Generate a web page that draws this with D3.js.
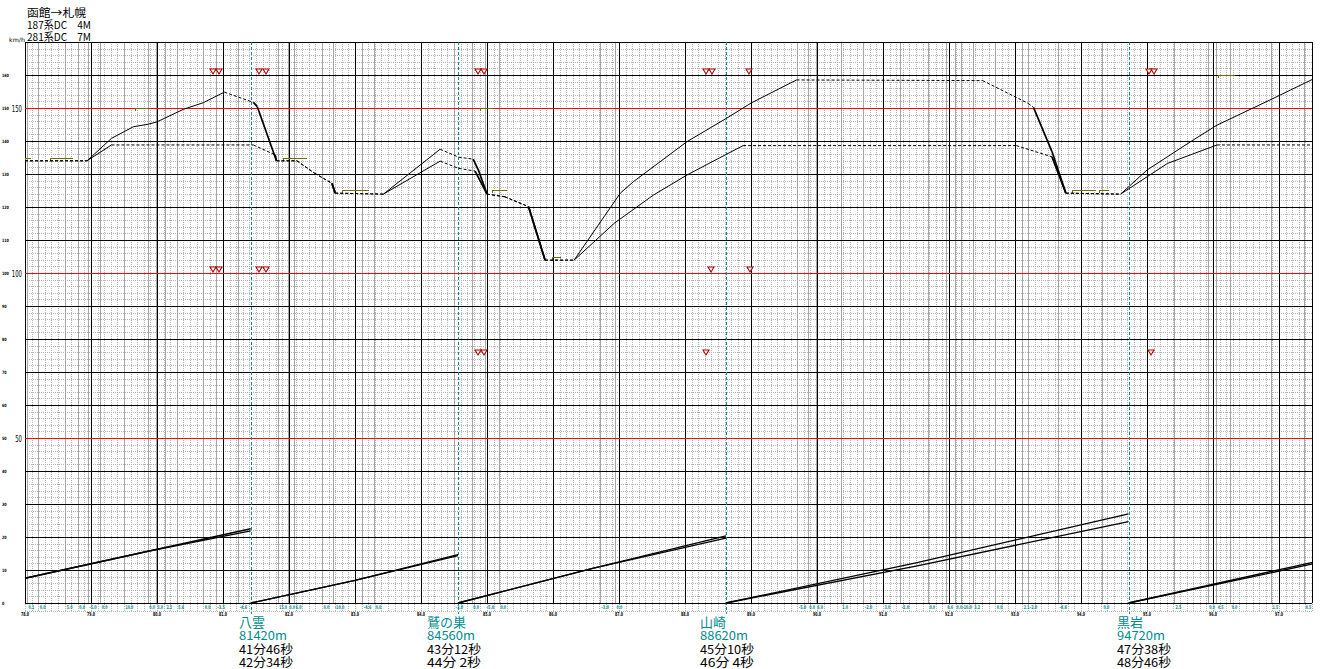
<!DOCTYPE html>
<html><head><meta charset="utf-8">
<script src="https://cdn.jsdelivr.net/npm/d3@7"></script>
<style>body{margin:0;background:#fff;overflow:hidden}svg{display:block}</style>
</head><body>
<svg id="c" width="1321" height="669"></svg>
<script>
// ---------- data ----------
const titleLines = ["函館→札幌", "187系DC　4M", "281系DC　7M"];
const unitLabel = "km/h";
const kmTicks = [78,79,80,81,82,83,84,85,86,87,88,89,90,91,92,93,94,95,96,97];
const kmTickLabels = ["78.0","79.0","80.0","81.0","82.0","83.0","84.0","85.0","86.0","87.0","88.0","89.0","90.0","91.0","92.0","93.0","94.0","95.0","96.0","97.0"];
const speedTicks = [0,10,20,30,40,50,60,70,80,90,100,110,120,130,140,150,160,170];
const speedTickLabels = ["0","10","20","30","40","50","60","70","80","90","100","110","120","130","140","150","160","170"];
const redSpeeds = [50,100,150];
const redLabels = ["50","100","150"];

const stationNames = ["八雲","鷲の巣","山崎","黒岩"];
const stationKm = [81.42,84.56,88.62,94.72];
const stationDist = ["81420m","84560m","88620m","94720m"];
const passTime1 = ["41分46秒","43分12秒","45分10秒","47分38秒"];
const passTime2 = ["42分34秒","44分 2秒","46分 4秒","48分46秒"];

const gradeKm = [78.03,78.20,78.61,78.80,78.95,79.14,79.50,79.86,79.98,80.12,80.30,80.70,80.89,81.23,
  81.83,81.98,82.08,82.50,82.67,83.11,83.29,84.50,84.77,84.97,85.18,86.71,86.94,
  89.70,89.86,89.98,90.36,90.70,91.00,91.26,91.68,91.95,92.09,92.18,92.36,92.70,
  93.11,93.20,93.65,94.32,95.41,95.92,96.05,96.26,96.88,97.38];
const gradeLabel = ["0.1","0.0","5.0","0.0","-5.0","0.0","10.0","0.0","3.0","2.2","5.6","0.0","-3.5","-4.6",
  "15.0","0.0","6.0","0.0","-10.0","-4.6","0.0","-3.0","0.0","-5.0","0.0","-3.0","0.0",
  "-5.0","0.0","6.0","1.0","-2.0","3.0","-2.0","0.0","6.6","0.0","-10.0","3.2","0.0",
  "2.1","-2.0","-4.6","0.0","2.5","0.0","4.5","0.0","1.5","4.5"];

// train 1 (upper curve)
const train1Km = [78.00,78.94,79.31,79.64,79.87,80.00,80.40,80.70,81.02,81.46,81.52,81.81,82.12,82.39,82.65,82.70,
  83.43,84.29,84.57,84.79,84.87,85.00,85.27,85.63,85.88,86.32,87.02,87.22,88.03,88.63,89.01,89.69,
  92.51,93.20,93.28,93.56,93.77,94.60,95.00,95.70,96.06,96.86,97.51];
const train1Speed = [134.0,134.0,140.8,144.3,145.1,145.8,149.6,151.6,154.8,151.7,150.4,134.0,134.0,130.2,127.2,124.2,
  123.9,137.5,135.1,134.5,131.2,123.9,123.1,120.1,103.9,103.9,124.2,127.7,139.8,146.9,151.6,158.5,
  158.3,151.4,150.2,136.8,124.2,123.9,131.2,140.3,144.8,152.4,158.7];
// notch of each segment: p = power, c = coast/constant, b = brake
const train1Mode = ["c","p","p","p","p","p","p","p","c","b","b","c","c","c","b","c","p","c","c","b","b",
  "c","c","b","c","p","p","p","p","p","p","c","c","c","b","b","c","p","p","p","p","p"];

// train 2 (lower curve)
const train2Km = [78.00,78.94,79.31,81.46,81.79,81.81,82.12,82.39,82.65,82.70,83.43,84.29,84.57,84.82,85.00,85.27,
  85.63,85.88,86.32,86.93,87.52,88.03,88.63,88.88,93.02,93.56,93.77,94.60,95.31,96.06,97.51];
const train2Speed = [134.0,134.0,138.8,138.8,135.8,134.0,134.0,130.2,127.2,124.2,123.9,133.9,131.7,130.9,123.9,123.1,
  120.1,103.9,103.9,115.1,123.6,129.7,136.0,138.6,138.6,135.2,124.2,123.9,133.2,138.8,138.8];
const train2Mode = ["c","p","c","c","b","c","c","c","b","c","p","c","c","b","c","c","b","c","p","p","p","p","p",
  "c","c","b","c","p","p","c"];

// running time since previous station (seconds)
const time1Km = [[78.00,79.90,81.42],[81.42,83.00,84.56],[84.56,86.60,88.62],[88.62,91.50,94.72],[94.72,97.51]];
const time1Sec = [[45,95,131],[0,41,86],[0,63,118],[0,67,148],[0,71]];
const time2Km = [[78.00,79.90,81.42],[81.42,83.00,84.56],[84.56,86.60,88.62],[88.62,91.50,94.72],[94.72,97.51]];
const time2Sec = [[45,95,135],[0,41,88],[0,63,122],[0,73,162],[0,74]];

// signal / restriction markers
const markerKm = [80.85,80.94,81.55,81.65,84.86,84.95,88.32,88.41,88.97,95.03,95.11,
  80.85,80.94,81.55,81.65,88.40,88.98,
  84.86,84.95,88.32,95.06];
const markerSpeed = [160,160,160,160,160,160,160,160,160,160,160,
  100,100,100,100,100,100,
  75,75,75,75];

// speed limit indications
const limitFrom = [78.00,78.38,79.67,81.91,82.80,84.89,85.08,85.98,93.86,94.27,96.08];
const limitTo   = [78.08,78.71,79.85,82.26,83.20,85.08,85.29,86.11,94.21,94.41,96.32];
const limitSpeed= [135,135,150,135,125,150,125,105,125,125,160];

// ---------- drawing ----------
const svg = d3.select("#c");
const L = 25, R = 1312, T = 42, B = 603;
const x = d3.scaleLinear().domain([78, 97.5]).range([L, R]);
const y = d3.scaleLinear().domain([0, 170]).range([B, T]);
const yT = d3.scaleLinear().domain([0, 1020]).range([B, T]); // 1 min per 10 km/h division
const px = v => Math.round(v) + 0.5;

svg.append("rect").attr("width",1321).attr("height",669).attr("fill","#fff");
const g = svg.append("g");

// minor dotted grid
const minorX = d3.range(0, 196).map(i => 78 + i * 0.1);
const minorY = d3.range(0, 86).map(i => i * 2);
g.append("g").selectAll("line").data(minorX).join("line")
  .attr("x1", d => px(x(d))).attr("x2", d => px(x(d))).attr("y1", T).attr("y2", B + 8)
  .attr("stroke", "#b4b4b4").attr("stroke-dasharray", "1,1").attr("shape-rendering","crispEdges");
g.append("g").selectAll("line").data(minorY).join("line")
  .attr("x1", L).attr("x2", R).attr("y1", d => px(y(d))).attr("y2", d => px(y(d)))
  .attr("stroke", "#b4b4b4").attr("stroke-dasharray", "1,1").attr("shape-rendering","crispEdges");
g.append("line").attr("x1", L).attr("x2", R).attr("y1", 611.5).attr("y2", 611.5)
  .attr("stroke", "#b4b4b4").attr("stroke-dasharray", "1,1");

// gradient change lines
g.append("g").selectAll("line").data(gradeKm).join("line")
  .attr("x1", d => px(x(d))).attr("x2", d => px(x(d))).attr("y1", T).attr("y2", B)
  .attr("stroke", "#a6a6a6").attr("shape-rendering","crispEdges");

// major grid
g.append("g").selectAll("line").data(kmTicks).join("line")
  .attr("x1", d => px(x(d))).attr("x2", d => px(x(d))).attr("y1", T).attr("y2", B)
  .attr("stroke", "#000").attr("shape-rendering","crispEdges");
g.append("g").selectAll("line").data(speedTicks).join("line")
  .attr("x1", L).attr("x2", R).attr("y1", d => px(y(d))).attr("y2", d => px(y(d)))
  .attr("stroke", "#000").attr("shape-rendering","crispEdges");
g.append("g").selectAll("line").data(redSpeeds).join("line")
  .attr("x1", L).attr("x2", R).attr("y1", d => px(y(d))).attr("y2", d => px(y(d)))
  .attr("stroke", "#ff0000").attr("shape-rendering","crispEdges");
g.append("line").attr("x1", px(R)).attr("x2", px(R)).attr("y1", T).attr("y2", B).attr("stroke","#000");

// station lines
g.append("g").selectAll("line").data(stationKm).join("line")
  .attr("x1", d => px(x(d))).attr("x2", d => px(x(d))).attr("y1", T).attr("y2", 614)
  .attr("stroke", "#008c8c").attr("stroke-dasharray", "3,2");

// speed limit indications
g.append("g").selectAll("path").data(limitFrom).join("path")
  .attr("d", (d,i) => {
    const yy = px(y(limitSpeed[i]));
    return `M${px(x(d))},${yy+2}V${yy}H${px(x(limitTo[i]))}`;
  })
  .attr("fill","none").attr("stroke", "#6e6e00").attr("shape-rendering","crispEdges");

// markers (red triangles)
g.append("g").selectAll("path").data(markerKm).join("path")
  .attr("d", (d,i) => {
    const cx = Math.round(x(d)), by = Math.round(y(markerSpeed[i])) - 1;
    return `M${cx-3},${by-5}H${cx+3}L${cx},${by}Z`;
  })
  .attr("fill","#fff").attr("stroke", "#b00000").attr("stroke-width", 1.1);

// speed curves
function drawTrain(kms, speeds, modes) {
  const gg = g.append("g");
  modes.forEach((m, i) => {
    gg.append("line")
      .attr("x1", x(kms[i])).attr("y1", y(speeds[i]))
      .attr("x2", x(kms[i+1])).attr("y2", y(speeds[i+1]))
      .attr("stroke", "#000")
      .attr("stroke-width", m === "b" ? 1.7 : 1)
      .attr("stroke-dasharray", m === "c" ? "3,2" : null);
  });
}
drawTrain(train2Km, train2Speed, train2Mode);
drawTrain(train1Km, train1Speed, train1Mode);

// running time curves
const tLine = d3.line().x(d => x(d[0])).y(d => yT(d[1]));
function drawTime(kmSegs, secSegs) {
  kmSegs.forEach((seg, s) => {
    g.append("path").attr("d", tLine(seg.map((k, i) => [k, secSegs[s][i]])))
      .attr("fill","none").attr("stroke","#000").attr("stroke-width",1.3);
  });
}
drawTime(time1Km, time1Sec);
drawTime(time2Km, time2Sec);

// ---------- texts ----------
const jp = "'Noto Sans CJK JP', 'DejaVu Sans', sans-serif";
const titleW = [59, 64, 64];
svg.append("g").selectAll("text").data(titleLines).join("text")
  .attr("x", 27).attr("y", (d,i) => 16.5 + i * 12)
  .attr("font-family", jp).attr("font-size", 11).attr("fill", "#000")
  .attr("textLength", (d,i) => titleW[i]).attr("lengthAdjust", "spacingAndGlyphs")
  .text(d => d);
svg.append("text").attr("x", 9).attr("y", 42).attr("font-family", "DejaVu Sans")
  .attr("font-size", 6).attr("fill", "#000")
  .attr("textLength", 16).attr("lengthAdjust", "spacingAndGlyphs").text(unitLabel);

// tiny speed labels
svg.append("g").selectAll("text").data(speedTicks.slice(0,17)).join("text")
  .attr("x", 2).attr("y", d => y(d) + 2)
  .attr("font-family", "DejaVu Sans").attr("font-size", 4.5).attr("font-weight","bold")
  .attr("textLength", (d,i) => speedTickLabels[i].length * 2.3).attr("lengthAdjust", "spacingAndGlyphs")
  .attr("fill", "#000").text((d,i) => speedTickLabels[i]);
// big reference labels
svg.append("g").selectAll("text").data(redSpeeds).join("text")
  .attr("x", 22).attr("y", d => y(d) + 4).attr("text-anchor","end")
  .attr("font-family", "DejaVu Sans").attr("font-size", 9)
  .attr("textLength", (d,i) => redLabels[i].length * 3.4).attr("lengthAdjust", "spacingAndGlyphs")
  .attr("fill", "#000").text((d,i) => redLabels[i]);

// km labels
svg.append("g").selectAll("text").data(kmTicks).join("text")
  .attr("x", d => x(d)).attr("y", 615.5).attr("text-anchor","middle")
  .attr("font-family", "DejaVu Sans").attr("font-size", 5.5).attr("font-weight","bold")
  .attr("textLength", 8).attr("lengthAdjust", "spacingAndGlyphs")
  .attr("fill", "#000").text((d,i) => kmTickLabels[i]);

// gradient labels
svg.append("g").selectAll("text").data(gradeKm).join("text")
  .attr("x", d => x(d) + 1.5).attr("y", 609)
  .attr("font-family", "DejaVu Sans").attr("font-size", 5).attr("font-weight","bold")
  .attr("textLength", (d,i) => gradeLabel[i].length * 1.9).attr("lengthAdjust", "spacingAndGlyphs")
  .attr("fill", "#008c8c").text((d,i) => gradeLabel[i]);

// station labels
const labelDx = [-12, -31, -26, -12];
stationKm.forEach((k, i) => {
  const lx = Math.round(x(k)) + labelDx[i];
  const gg = svg.append("g").attr("font-family", jp);
  gg.append("text").attr("x", lx).attr("y", 627).attr("font-size", 13).attr("fill", "#008c8c").text(stationNames[i]);
  gg.append("text").attr("x", lx).attr("y", 640).attr("font-size", 12).attr("fill", "#008c8c")
    .attr("textLength", 48).attr("lengthAdjust", "spacingAndGlyphs").text(stationDist[i]);
  gg.append("text").attr("x", lx).attr("y", 653.5).attr("font-size", 12).attr("fill", "#000")
    .attr("textLength", 54).attr("lengthAdjust", "spacingAndGlyphs").text(passTime1[i]);
  gg.append("text").attr("x", lx).attr("y", 667).attr("font-size", 12).attr("fill", "#000")
    .attr("textLength", 54).attr("lengthAdjust", "spacingAndGlyphs").text(passTime2[i]);
});
</script>
</body></html>
